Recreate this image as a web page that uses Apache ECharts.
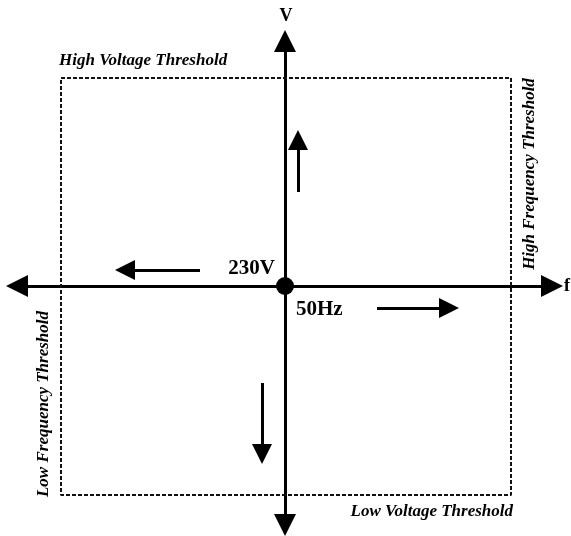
<!DOCTYPE html>
<html><head><meta charset="utf-8">
<script src="https://cdn.jsdelivr.net/npm/echarts@6/dist/echarts.min.js"></script>
<style>html,body{margin:0;padding:0;background:#fff}#c{width:571px;height:536px}</style>
</head><body><div id="c"></div>
<script>
// Coordinate system: origin at the nominal point (50Hz, 230V), units ~ pixels
var origin = [0, 0];
var axisEnds = [[0, 245], [0, -239], [-268, 0], [267, 0]];       // V+, V-, f-, f+
var thresholdBox = [[-224, 208], [226, 208], [226, -209], [-224, -209], [-224, 208]];
var smallArrows = [
  [[13, 94], [13, 146]],     // voltage rising
  [[-85, 16], [-160, 16]],   // frequency falling
  [[92, -22], [164, -22]],   // frequency rising
  [[-23, -97], [-23, -168]]  // voltage falling
];
var thresholdLabels = ['High Voltage Threshold', 'Low Voltage Threshold', 'High Frequency Threshold', 'Low Frequency Threshold'];
var thresholdPos = [[-226, 225], [228, -226], [245, 112], [-241, -118]];
var nominalLabels = ['230V', '50Hz'];
var nominalPos = [[-10, 17], [11, -24]];
var axisNames = ['V', 'f'];
var axisNamePos = [[1, 270], [279, 0]];

var chart = echarts.init(document.getElementById('c'));
var serif = '"Liberation Serif", "DejaVu Serif", serif';

function lineData(pairs) { return pairs.map(function (p) { return { coords: p }; }); }

var thrData = thresholdLabels.map(function (t, i) {
  var align = ['left', 'right', 'center', 'center'][i];
  return {
    value: thresholdPos[i], name: t,
    label: { rotate: i >= 2 ? 90 : 0, align: align }
  };
});

chart.setOption({
  animation: false,
  grid: { left: 0, top: 0, width: 571, height: 536 },
  xAxis: { type: 'value', min: -285, max: 286, show: false },
  yAxis: { type: 'value', min: -250, max: 286, show: false },
  series: [
    {
      type: 'line', data: thresholdBox, symbol: 'none', silent: true,
      lineStyle: { color: '#111', width: 2, type: [4, 2] }
    },
    {
      type: 'lines', coordinateSystem: 'cartesian2d', silent: true,
      data: lineData(axisEnds.map(function (e) { return [origin, e]; })),
      symbol: ['none', 'triangle'], symbolSize: [18, 22],
      lineStyle: { color: '#000', width: 3, opacity: 1 }
    },
    {
      type: 'lines', coordinateSystem: 'cartesian2d', silent: true,
      data: lineData(smallArrows),
      symbol: ['none', 'triangle'], symbolSize: [16, 20],
      lineStyle: { color: '#000', width: 3, opacity: 1 }
    },
    {
      type: 'scatter', data: [origin], symbolSize: 18, silent: true,
      itemStyle: { color: '#000', opacity: 1 }
    },
    {
      type: 'scatter', data: thrData, symbolSize: 0, silent: true,
      itemStyle: { opacity: 1 },
      label: {
        show: true, position: 'inside', formatter: '{b}', color: '#000',
        fontFamily: serif, fontStyle: 'italic', fontWeight: 'bold', fontSize: 17,
        verticalAlign: 'middle'
      }
    },
    {
      type: 'scatter', symbolSize: 0, silent: true,
      itemStyle: { opacity: 1 },
      data: nominalLabels.map(function (t, i) {
        return { value: nominalPos[i], name: t, label: { align: i === 0 ? 'right' : 'left' } };
      }),
      label: {
        show: true, position: 'inside', formatter: '{b}', color: '#000',
        fontFamily: serif, fontWeight: 'bold', fontSize: 21, verticalAlign: 'middle'
      }
    },
    {
      type: 'scatter', symbolSize: 0, silent: true,
      itemStyle: { opacity: 1 },
      data: axisNames.map(function (t, i) {
        return { value: axisNamePos[i], name: t, label: { align: i === 0 ? 'center' : 'left' } };
      }),
      label: {
        show: true, position: 'inside', formatter: '{b}', color: '#000',
        fontFamily: serif, fontWeight: 'bold', fontSize: 18, verticalAlign: 'middle'
      }
    }
  ]
});
</script></body></html>
